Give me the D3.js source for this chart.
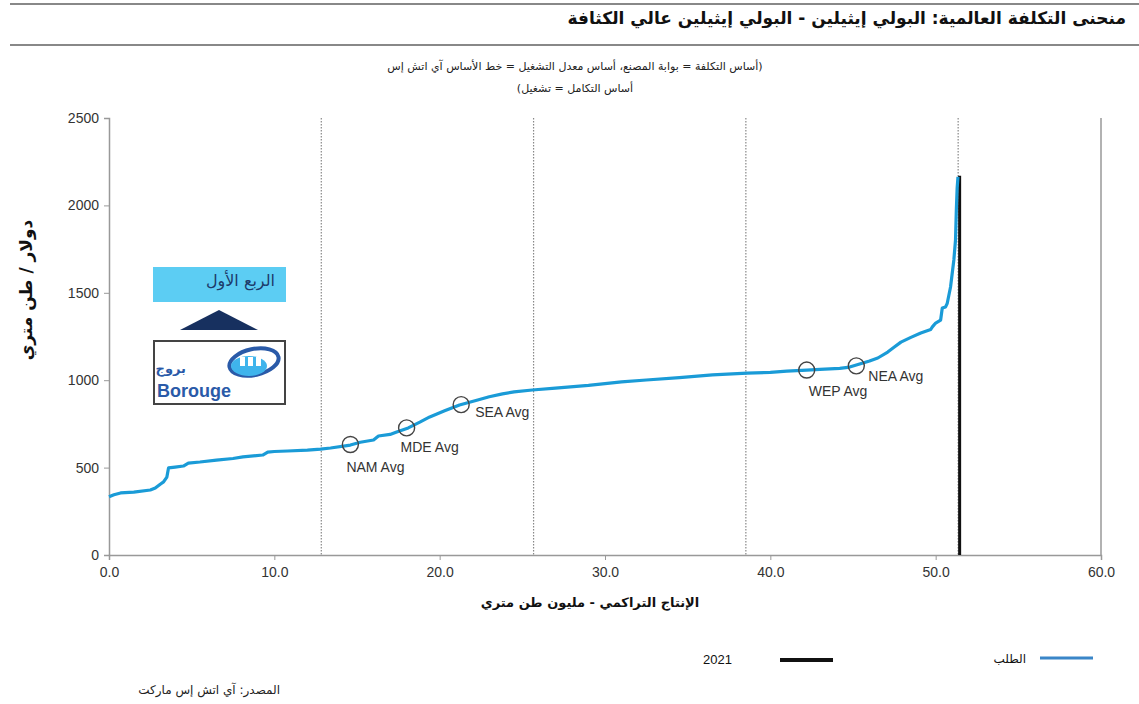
<!DOCTYPE html>
<html><head><meta charset="utf-8">
<script src="https://cdn.jsdelivr.net/npm/d3@7"></script>
<style>
body{margin:0;background:#fff;}
svg{display:block;}
</style></head>
<body>
<svg id="c" width="1139" height="704"></svg>
<script>
// ---- data ----
const costX = [0,0.3,0.7,1.5,2.5,2.8,3.1,3.3,3.5,3.6,4.0,4.5,4.8,5.5,6.5,7.5,8.1,9.3,9.6,10.0,10.8,12.0,12.8,13.4,14.6,15.2,16.0,16.3,17.0,17.4,18.1,18.8,19.4,20.3,21.2,22.3,23.0,23.8,24.5,25.6,27.0,29.0,31.0,32.5,34.5,36.5,38.6,40.0,41.0,42.2,43.0,44.2,44.8,45.3,46.0,46.5,47.1,47.5,47.9,48.5,49.1,49.7,49.8,50.0,50.3,50.4,50.6,50.7,50.9,51.1,51.2,51.25,51.3,51.35];
const costY = [333,345,355,360,372,383,405,418,446,498,503,509,526,532,543,552,561,572,589,592,595,600,606,612,629,645,658,681,690,704,727,760,790,825,858,887,905,922,933,944,955,970,990,1001,1015,1030,1040,1045,1052,1058,1062,1068,1075,1090,1110,1127,1161,1190,1218,1245,1270,1290,1305,1327,1344,1413,1419,1440,1533,1688,1802,1974,2100,2163];
const avgLabels = ["NAM Avg","MDE Avg","SEA Avg","WEP Avg","NEA Avg"];
const avgX = [14.6,18.0,21.3,42.2,45.2];
const avgY = [632,727,860,1058,1082];
const quartileX = [12.84,25.68,38.52,51.36];
const demandYear = "2021";
const demandX = 51.45;
const demandTop = 2170;
const yTicks = [0,500,1000,1500,2000,2500];
const xTicks = [0,10,20,30,40,50,60];

const title = "منحنى التكلفة العالمية: البولي إيثيلين - البولي إيثيلين عالي الكثافة";
const sub1 = "(أساس التكلفة = بوابة المصنع، أساس معدل التشغيل = خط الأساس آي اتش إس";
const sub2 = "أساس التكامل = تشغيل)";
const yTitle = "دولار / طن متري";
const xTitle = "الإنتاج التراكمي - مليون طن متري";
const legendDemand = "الطلب";
const source = "المصدر: آي اتش إس ماركت";
const insetText = "الربع الأول";

// ---- styles/layout ----
const labelOffsets = {"NAM Avg":[-4,27],"MDE Avg":[-6,24],"SEA Avg":[14,12],"WEP Avg":[2,26],"NEA Avg":[12,15]};
const arFont = "'DejaVu Sans', 'Noto Sans', sans-serif";
const latFont = "'Liberation Sans', Arial, sans-serif";
const blue = "#1a9bd7";

const svg = d3.select("#c");
const x = d3.scaleLinear().domain([0,60]).range([109,1101]);
const y = d3.scaleLinear().domain([0,2500]).range([555,118]);

// header lines
svg.append("line").attr("x1",10).attr("x2",1139).attr("y1",4).attr("y2",4).attr("stroke","#888").attr("stroke-width",2);
svg.append("line").attr("x1",10).attr("x2",1139).attr("y1",45).attr("y2",45).attr("stroke","#888").attr("stroke-width",2);
svg.append("text").attr("x",1126).attr("y",24).attr("text-anchor","start").attr("direction","rtl")
  .style("font-family",arFont).style("font-weight","bold").style("font-size","17px").attr("fill","#111").text(title);
svg.append("text").attr("x",575).attr("y",70).attr("text-anchor","middle").attr("direction","rtl")
  .style("font-family",arFont).style("font-size","11px").attr("fill","#222").text(sub1);
svg.append("text").attr("x",575).attr("y",92).attr("text-anchor","middle").attr("direction","rtl")
  .style("font-family",arFont).style("font-size","11px").attr("fill","#222").text(sub2);

// quartile dotted lines
svg.selectAll("line.q").data(quartileX).enter().append("line").attr("class","q")
  .attr("x1",d=>x(d)).attr("x2",d=>x(d)).attr("y1",y(2500)).attr("y2",y(0))
  .attr("stroke","#888").attr("stroke-width",1.2).attr("stroke-dasharray","1.5,1.5");
// right border
svg.append("line").attr("x1",x(60)).attr("x2",x(60)).attr("y1",y(2500)).attr("y2",y(0)).attr("stroke","#999").attr("stroke-width",1.5);

// axes
const yAxis = svg.append("g").attr("transform",`translate(${x(0)},0)`)
  .call(d3.axisLeft(y).tickValues(yTicks).tickSize(5).tickFormat(d3.format("d")));
const xAxis = svg.append("g").attr("transform",`translate(0,${y(0)})`)
  .call(d3.axisBottom(x).tickValues(xTicks).tickSize(5).tickFormat(d3.format(".1f")));
[yAxis,xAxis].forEach(g=>{
  g.select(".domain").attr("stroke","#999").attr("stroke-width",1.5);
  g.selectAll(".tick line").attr("stroke","#999");
  g.selectAll("text").style("font-family",latFont).style("font-size","14px").attr("fill","#333");
});
yAxis.selectAll("text").attr("x",-10);
xAxis.selectAll("text").attr("y",12);

// axis titles
svg.append("text").attr("transform","translate(32,290) rotate(-90)").attr("text-anchor","middle").attr("direction","rtl")
  .style("font-family",arFont).style("font-weight","bold").style("font-size","17px").attr("fill","#111").text(yTitle);
svg.append("text").attr("x",590).attr("y",607).attr("text-anchor","middle").attr("direction","rtl")
  .style("font-family",arFont).style("font-weight","bold").style("font-size","13px").attr("fill","#111").text(xTitle);

// demand line
svg.append("line").attr("x1",x(demandX)).attr("x2",x(demandX)).attr("y1",y(demandTop)).attr("y2",y(0))
  .attr("stroke","#111").attr("stroke-width",3);

// cost curve
const pts = costX.map((d,i)=>[d,costY[i]]);
svg.append("path").datum(pts).attr("fill","none").attr("stroke",blue).attr("stroke-width",3.2)
  .attr("stroke-linejoin","round").attr("d",d3.line().x(d=>x(d[0])).y(d=>y(d[1])));

// average markers
avgLabels.forEach((lab,i)=>{
  const cx = x(avgX[i]), cy = y(avgY[i]);
  svg.append("circle").attr("cx",cx).attr("cy",cy).attr("r",8).attr("fill","none").attr("stroke","#444").attr("stroke-width",1.4);
  const o = labelOffsets[lab];
  svg.append("text").attr("x",cx+o[0]).attr("y",cy+o[1]).style("font-family",latFont).style("font-size","14px").attr("fill","#333").text(lab);
});

// inset: quarter label, arrow, logo
svg.append("rect").attr("x",153).attr("y",267).attr("width",133).attr("height",35).attr("fill","#5ccdf3");
svg.append("text").attr("x",275).attr("y",286).attr("text-anchor","start").attr("direction","rtl")
  .style("font-family",arFont).style("font-size","16px").attr("fill","#1d3a6a").text(insetText);
svg.append("path").attr("d","M180,330 L219,310 L258,330 Z").attr("fill","#17305f");
svg.append("rect").attr("x",154).attr("y",341).attr("width",131).attr("height",63).attr("fill","#fff").attr("stroke","#444").attr("stroke-width",2);
svg.append("text").attr("x",157).attr("y",397).style("font-family",latFont).style("font-weight","bold").style("font-size","18px").attr("fill","#2a5aa8").text("Borouge");
svg.append("text").attr("x",186).attr("y",373).attr("text-anchor","start").attr("direction","rtl").style("font-family",arFont).style("font-weight","bold").style("font-size","13px").attr("fill","#2a5aa8").text("بروج");
svg.append("ellipse").attr("cx",254).attr("cy",362).attr("rx",25).attr("ry",13).attr("fill","none").attr("stroke","#2a5aa8").attr("stroke-width",4).attr("transform","rotate(-12,254,362)");
svg.append("ellipse").attr("cx",249).attr("cy",366).attr("rx",18).attr("ry",10).attr("fill","#3fb4ec");
[240,248,256].forEach(px=>svg.append("rect").attr("x",px).attr("y",357).attr("width",5).attr("height",9).attr("fill","#fff"));

// legend
svg.append("text").attr("x",732).attr("y",664).attr("text-anchor","end").style("font-family",latFont).style("font-size","13px").attr("fill","#111").text(demandYear);
svg.append("line").attr("x1",780).attr("x2",833).attr("y1",660).attr("y2",660).attr("stroke","#111").attr("stroke-width",4);
svg.append("text").attr("x",1026).attr("y",663).attr("text-anchor","start").attr("direction","rtl").style("font-family",arFont).style("font-size","12px").attr("fill","#111").text(legendDemand);
svg.append("line").attr("x1",1040).attr("x2",1093).attr("y1",658).attr("y2",658).attr("stroke","#3a86c8").attr("stroke-width",3);

// source
svg.append("text").attr("x",280).attr("y",694).attr("text-anchor","start").attr("direction","rtl").style("font-family",arFont).style("font-size","12px").attr("fill","#222").text(source);
</script>
</body></html>
